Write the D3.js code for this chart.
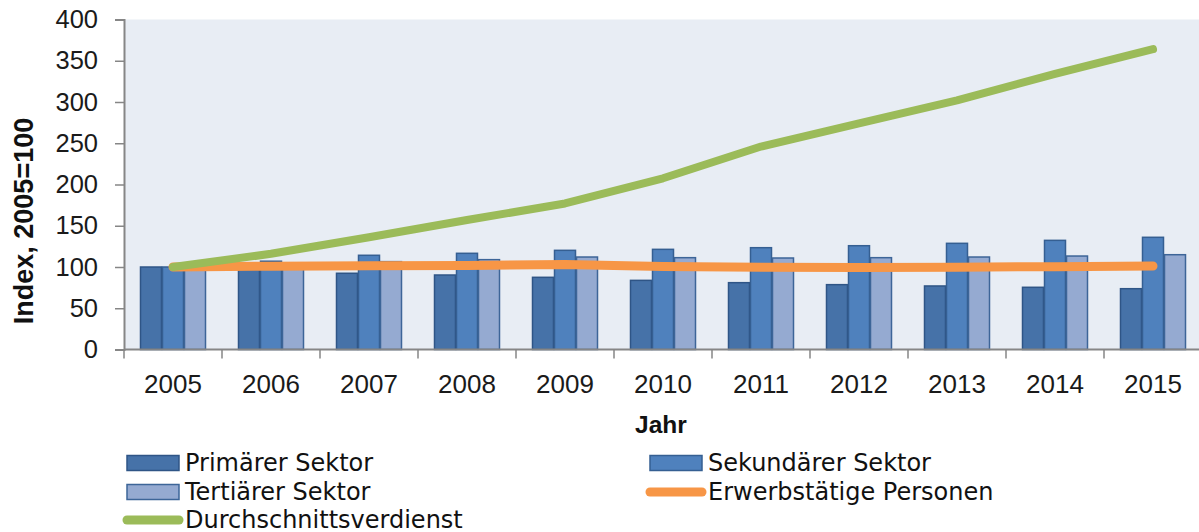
<!DOCTYPE html>
<html><head><meta charset="utf-8">
<script src="https://cdn.jsdelivr.net/npm/d3@7"></script>
<style>body{margin:0;background:#fff;} svg{display:block;}</style>
</head><body>
<svg id="c" width="1199" height="532"></svg>
<script>
const years = ["2005","2006","2007","2008","2009","2010","2011","2012","2013","2014","2015"];
const primaer = [100, 97, 92.4, 90.3, 87.5, 83.8, 81, 78.6, 77, 75.4, 73.7];
const sekundaer = [100, 107, 114.2, 116.6, 120.2, 121.4, 123.4, 125.8, 128.7, 132.3, 136];
const tertiaer = [100, 104, 106.5, 108.9, 112.1, 111.3, 110.9, 111.3, 112.1, 113.3, 114.9];
const erwerbstaetige = [100, 101, 101.5, 101.8, 103, 100.6, 99.6, 99.4, 99.8, 100.4, 101.2];
const verdienst = [100, 116, 136, 157, 177, 207.5, 246, 274, 302, 334, 364];
const yTicks = [0, 50, 100, 150, 200, 250, 300, 350, 400];
const barSeries = ["Primärer Sektor", "Sekundärer Sektor", "Tertiärer Sektor"];
const lineSeries = ["Erwerbstätige Personen", "Durchschnittsverdienst"];

(function () {
const NUMFONT = "'Liberation Sans', Arial, sans-serif";
const LEGFONT = "'DejaVu Sans', sans-serif";
const svg = d3.select("#c");
const mLeft = 124, mTop = 19.5, mBottom = 349.5, bandW = 98;
const x = d3.scaleBand().domain(years).range([mLeft, mLeft + bandW * years.length]).padding(0);
const xs = d3.scaleBand().domain(barSeries).range([16, 82]).padding(0);
const y = d3.scaleLinear().domain([0, 400]).range([mBottom, mTop]);

const fills = ["#4672A8", "#4F81BD", "#95AAD1"];
const strokes = ["#2F5586", "#355F92", "#3D6598"];
const barData = [primaer, sekundaer, tertiaer];

svg.append("rect").attr("x", mLeft).attr("y", mTop).attr("width", 1199 - mLeft).attr("height", mBottom - mTop).attr("fill", "#E8EDF4");

barSeries.forEach((s, si) => {
  svg.append("g").selectAll("rect").data(years).join("rect")
    .attr("x", d => x(d) + xs(s) + 0.5)
    .attr("y", (d, i) => y(barData[si][i]))
    .attr("width", xs.bandwidth() - 1)
    .attr("height", (d, i) => mBottom - y(barData[si][i]))
    .attr("fill", fills[si]).attr("stroke", strokes[si]).attr("stroke-width", 1.5);
});

const line = d3.line().x((d, i) => x(years[i]) + bandW / 2).y(d => y(d));
svg.append("path").datum(erwerbstaetige).attr("d", line).attr("fill", "none")
  .attr("stroke", "#F79646").attr("stroke-width", 9).attr("stroke-linecap", "round").attr("stroke-linejoin", "round");
svg.append("path").datum(verdienst).attr("d", line).attr("fill", "none")
  .attr("stroke", "#9BBB59").attr("stroke-width", 8).attr("stroke-linecap", "round").attr("stroke-linejoin", "round");

const yAxis = svg.append("g").attr("transform", `translate(${mLeft},0)`)
  .call(d3.axisLeft(y).tickValues(yTicks).tickSize(9).tickPadding(17));
yAxis.select(".domain").attr("stroke", "#868686").attr("stroke-width", 2);
yAxis.selectAll(".tick line").attr("stroke", "#868686").attr("stroke-width", 1.5);
yAxis.selectAll("text").attr("font-family", NUMFONT).attr("font-size", 25.5).attr("fill", "#1a1a1a");

const xAxis = svg.append("g").attr("transform", `translate(0,${mBottom})`)
  .call(d3.axisBottom(x).tickSize(0));
xAxis.select(".domain").attr("stroke", "#868686").attr("stroke-width", 2).attr("d", `M${mLeft},0H1199`);
xAxis.selectAll("text").attr("dy", null).attr("y", 43.5)
  .attr("font-family", NUMFONT).attr("font-size", 26).attr("fill", "#1a1a1a");
svg.append("g").selectAll("line").data(years).join("line")
  .attr("x1", d => x(d)).attr("x2", d => x(d)).attr("y1", mBottom).attr("y2", mBottom + 9)
  .attr("stroke", "#868686").attr("stroke-width", 1.5);

svg.append("text").attr("transform", `translate(33,221) rotate(-90)`)
  .attr("text-anchor", "middle").attr("font-family", NUMFONT).attr("font-weight", "bold").attr("font-size", 27)
  .attr("fill", "#111").text("Index, 2005=100");
svg.append("text").attr("x", 661).attr("y", 433).attr("text-anchor", "middle")
  .attr("font-family", NUMFONT).attr("font-weight", "bold").attr("font-size", 24.5).attr("fill", "#111").text("Jahr");

const legendItems = [
  {name: barSeries[0], type: "bar", fill: fills[0], stroke: strokes[0], col: 0, row: 0},
  {name: barSeries[1], type: "bar", fill: fills[1], stroke: strokes[1], col: 1, row: 0},
  {name: barSeries[2], type: "bar", fill: fills[2], stroke: strokes[2], col: 0, row: 1},
  {name: lineSeries[0], type: "line", color: "#F79646", col: 1, row: 1},
  {name: lineSeries[1], type: "line", color: "#9BBB59", col: 0, row: 2}
];
const colX = [127, 650], rowY = [463, 492, 520];
const lg = svg.append("g");
legendItems.forEach(it => {
  const gx = colX[it.col], gy = rowY[it.row];
  if (it.type === "bar") {
    lg.append("rect").attr("x", gx).attr("y", gy - 7.5).attr("width", 52).attr("height", 15)
      .attr("fill", it.fill).attr("stroke", it.stroke).attr("stroke-width", 1.5);
  } else {
    lg.append("line").attr("x1", gx).attr("x2", gx + 52).attr("y1", gy).attr("y2", gy)
      .attr("stroke", it.color).attr("stroke-width", 9).attr("stroke-linecap", "round");
  }
  lg.append("text").attr("x", gx + 58).attr("y", gy + 7.5).attr("font-family", LEGFONT).attr("font-size", 24)
    .attr("fill", "#111").text(it.name);
});
})();
</script>
</body></html>
